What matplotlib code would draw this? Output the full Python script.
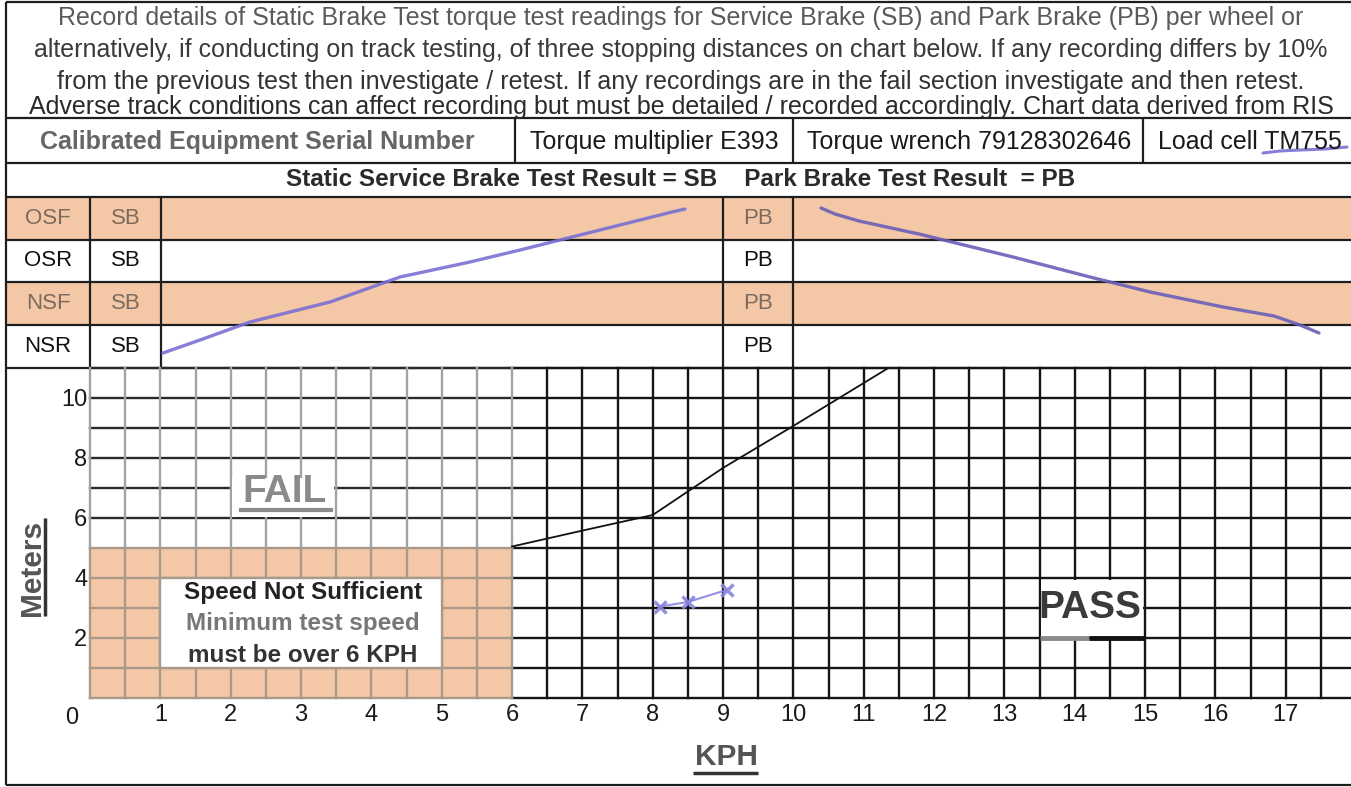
import numpy as np
import matplotlib.pyplot as plt
from matplotlib.patches import Rectangle

plt.rcParams['font.family'] = ['Liberation Sans', 'DejaVu Sans']

# form texts
note_lines = [
    'Record details of Static Brake Test torque test readings for Service Brake (SB) and Park Brake (PB) per wheel or',
    'alternatively, if conducting on track testing, of three stopping distances on chart below. If any recording differs by 10%',
    'from the previous test then investigate / retest. If any recordings are in the fail section investigate and then retest.',
    'Adverse track conditions can affect recording but must be detailed / recorded accordingly. Chart data derived from RIS',
]
equip_cells = ['Calibrated Equipment Serial Number', 'Torque multiplier E393',
               'Torque wrench 79128302646', 'Load cell TM755']
result_title = 'Static Service Brake Test Result = SB    Park Brake Test Result  = PB'
wheels = ['OSF', 'OSR', 'NSF', 'NSR']
speed_note = ['Speed Not Sufficient', 'Minimum test speed', 'must be over 6 KPH']

# chart values
kph_ticks = list(range(1, 18))
m_ticks = [2, 4, 6, 8, 10]
limit_kph = [6, 7, 8, 9, 10, 11.35]
limit_m = [5.05, 5.58, 6.1, 7.67, 9.07, 11.0]
min_speed = 6
min_dist = 5
test_kph = [8.1, 8.5, 9.05]
test_m = [3.05, 3.2, 3.6]

# handwritten pen strokes on the page (page pixels)
sb_pen_x = [163, 200, 250, 330, 400, 470, 520, 560, 640, 672, 685]
sb_pen_y = [353, 340, 322, 302, 277, 262, 250, 240, 220, 212, 209]
pb_pen_x = [821, 835, 859, 919, 1013, 1090, 1150, 1223, 1274, 1300, 1319]
pb_pen_y = [208, 214, 221, 234, 257, 277, 292, 307, 316, 325, 333]
tm_pen_x = [1263, 1280, 1300, 1325, 1347]
tm_pen_y = [153, 151, 150, 149, 147]

W, H = 1351, 787
orange = '#f4c8a6'
ink = '#1e1e1e'
pen = '#7a70d4'

fig = plt.figure(figsize=(W / 100, H / 100), dpi=100)

# page axes in pixels
page = fig.add_axes([0, 0, 1, 1])
page.set_xlim(0, W)
page.set_ylim(H, 0)
page.axis('off')

def hline(y, x0=6, x1=W, c=ink, lw=1.6):
    page.plot([x0, x1], [y, y], color=c, lw=lw, solid_capstyle='butt')

def vline(x, y0, y1, c=ink, lw=1.6):
    page.plot([x, x], [y0, y1], color=c, lw=lw, solid_capstyle='butt')

# orange rows
for y0 in (197, 282):
    page.add_patch(Rectangle((6, y0), W - 6, 43, color=orange, lw=0))

for y in (2, 118, 163, 197, 240, 282, 325, 368, 785):
    hline(y)
vline(6, 2, 785)
for x in (515, 793, 1143):
    vline(x, 118, 163)
for x in (90, 161, 723, 793):
    vline(x, 197, 368)

# header notes
note_y = [18, 50, 82, 107]
note_col = ['#5a5a5a', '#3a3a3a', '#333333', '#2a2a2a']
for txt, y, c in zip(note_lines, note_y, note_col):
    page.text(681, y, txt, ha='center', va='center', fontsize=18, color=c)

cell_x = [257, 654, 969, 1250]
for i, (txt, x) in enumerate(zip(equip_cells, cell_x)):
    page.text(x, 142, txt, ha='center', va='center', fontsize=18,
              color='#666666' if i == 0 else '#1a1a1a',
              fontweight='bold' if i == 0 else 'normal')

page.text(681, 180, result_title, ha='center', va='center', fontsize=17.5,
          fontweight='bold', color='#2a2a2a')

row_y = [218.5, 261, 303.5, 346.5]
for i, (w, y) in enumerate(zip(wheels, row_y)):
    c = '#7d6a5e' if i % 2 == 0 else '#111111'
    page.text(48, y, w, ha='center', va='center', fontsize=16, color=c)
    page.text(126, y, 'SB', ha='center', va='center', fontsize=16, color=c)
    page.text(758, y, 'PB', ha='center', va='center', fontsize=16, color=c)

page.plot(sb_pen_x, sb_pen_y, color=pen, lw=2.4, alpha=0.9, solid_capstyle='round')
page.plot(pb_pen_x, pb_pen_y, color='#6a5fb8', lw=2.4, alpha=0.9, solid_capstyle='round')
page.plot(tm_pen_x, tm_pen_y, color=pen, lw=2.2, alpha=0.9, solid_capstyle='round')

# axis titles
page.text(32, 568, 'Meters', rotation=90, ha='center', va='center', fontsize=21.5,
          fontweight='bold', color='#555555')
vline(45, 518, 616, c='#333333', lw=2.5)
page.text(726, 757, 'KPH', ha='center', va='center', fontsize=21.5,
          fontweight='bold', color='#555555')
hline(773, 693, 758, c='#333333', lw=2.5)

# chart axes
x0_px, x_scale = 90, 70.34
y0_px, y_scale = 698, 30
xmax = (W - x0_px) / x_scale
ax = fig.add_axes([x0_px / W, (H - y0_px) / H, (W - x0_px) / W, 11 * y_scale / H])
ax.set_xlim(0, xmax)
ax.set_ylim(0, 11)
ax.patch.set_alpha(0)
for s in ax.spines.values():
    s.set_visible(False)

box_grey = '#a8998b'
fail_grey = '#a3a3a3'
black = '#151515'
glw = 1.7

ax.add_patch(Rectangle((0, 0), min_speed, min_dist, color=orange, lw=0, zorder=0.5))

for y in range(0, 12):
    ax.plot([min_speed, xmax], [y, y], color=black, lw=glw, clip_on=False, zorder=1)
    ax.plot([0, min_speed], [y, y], color=box_grey if y <= min_dist else '#2a2a2a',
            lw=glw, clip_on=False, zorder=1)
for x in np.arange(0, 17.51, 0.5):
    if x <= min_speed:
        ax.plot([x, x], [0, min_dist], color=box_grey, lw=glw, clip_on=False, zorder=1.2)
        ax.plot([x, x], [min_dist, 11], color=fail_grey, lw=glw, clip_on=False, zorder=1.2)
    else:
        ax.plot([x, x], [0, 11], color=black, lw=glw, clip_on=False, zorder=1.2)

# speed-not-sufficient box
ax.add_patch(Rectangle((1, 1), 4, 3, facecolor='white', edgecolor=box_grey, lw=glw, zorder=3))
for txt, y, c in zip(speed_note, [3.5, 2.47, 1.42], ['#222222', '#777777', '#333333']):
    ax.text(3.03, y, txt, ha='center', va='center', fontsize=17.5, fontweight='bold',
            color=c, zorder=4)

# FAIL / PASS labels
ax.add_patch(Rectangle((2.025, 6.05), 1.45, 1.3, facecolor='white', lw=0, zorder=3))
ax.text(2.77, 6.88, 'FAIL', ha='center', va='center', fontsize=28, fontweight='bold',
        color='#8a8a8a', zorder=4)
ax.plot([2.15, 3.42], [6.28, 6.28], color='#8a8a8a', lw=3, zorder=4)

ax.add_patch(Rectangle((13.525, 2.05), 1.45, 1.9, facecolor='white', lw=0, zorder=3))
ax.text(14.22, 3.0, 'PASS', ha='center', va='center', fontsize=28, fontweight='bold',
        color='#3a3a3a', zorder=4)
ax.plot([13.5, 14.2], [2.0, 2.0], color='#8a8a8a', lw=3.5, zorder=4, solid_capstyle='butt')
ax.plot([14.2, 15.0], [2.0, 2.0], color='#111111', lw=3.5, zorder=4, solid_capstyle='butt')

# stopping distance limit line and test readings
ax.plot(limit_kph, limit_m, color='#111111', lw=1.3, zorder=5, clip_on=False)
ax.plot(test_kph, test_m, color='#8a84e0', lw=1.5, marker='x', ms=9, mew=2.5,
        alpha=0.9, zorder=5)

ax.set_xticks(kph_ticks)
ax.set_yticks(m_ticks)
ax.tick_params(length=0, labelsize=17, labelcolor='#1a1a1a')
ax.tick_params(axis='x', pad=4)
ax.tick_params(axis='y', pad=2)
ax.text(-0.26, -0.67, '0', ha='center', va='center', fontsize=17, color='#1a1a1a')

fig.savefig('out.png', dpi=100)
